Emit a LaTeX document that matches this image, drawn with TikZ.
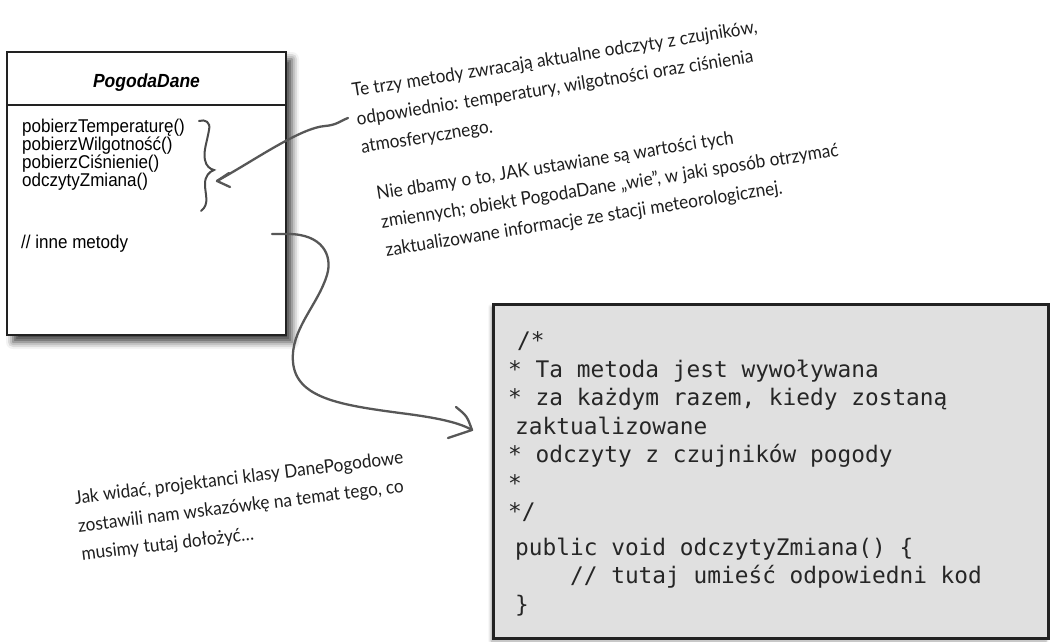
\documentclass[tikz,border=0pt]{standalone}
\usepackage{fontspec}
\usetikzlibrary{shadows.blur,calc}
\newfontfamily\umlfont[FakeStretch=0.92]{Liberation Sans}
\newfontfamily\codefont{DejaVu Sans Mono}
\newfontfamily\notefont[FakeStretch=0.93]{Lato}
\definecolor{inkgray}{HTML}{575757}
\definecolor{codebg}{HTML}{E0E0E0}
\definecolor{frameink}{HTML}{222222}
\definecolor{codeink}{HTML}{262626}
\definecolor{noteink}{HTML}{1E1E1E}

\begin{document}
\begin{tikzpicture}[x=1pt,y=-1pt,
  umlbox/.style={draw=frameink, line width=1.6pt, fill=white, inner sep=0pt,
    minimum width=279pt, minimum height=283pt,
    blur shadow={shadow xshift=6pt, shadow yshift=-7pt,
      shadow blur radius=7pt, shadow opacity=75}},
  codebox/.style={draw=frameink, line width=3pt, fill=codebg, inner sep=0pt,
    minimum width=555pt, minimum height=334pt,
    blur shadow={shadow xshift=-2pt, shadow yshift=-3pt,
      shadow blur radius=3pt, shadow opacity=35}},
  umltext/.style={inner sep=0pt, align=left,
    font=\umlfont\fontsize{18.5}{17.7}\selectfont},
  codetextstyle/.style={inner sep=0pt, align=left, text=codeink,
    font=\codefont\fontsize{22.8}{28.5}\selectfont},
  note/.style={inner sep=0pt, align=left, anchor=base west, text=noteink,
    font=\notefont\fontsize{18.5}{28.5}\selectfont},
  conn/.style={draw=inkgray, line width=2.3pt, line cap=round, line join=round},
  bracestyle/.style={draw=inkgray!85!black, line width=2pt, line cap=round}
]
\useasboundingbox (0,0) rectangle (1052,642);

% class box (multi-line nodes are anchored on the baseline of their last line)
\node[umlbox] (uml) at (146.5,193.5) {};
\draw[frameink, line width=1.4pt] (uml.west |- 0,105) -- (uml.east |- 0,105);
\node[anchor=base, inner sep=0pt,
  font=\umlfont\bfseries\itshape\fontsize{19}{19}\selectfont] (title) at (146.5,87) {PogodaDane};
\node[umltext, anchor=base west] (methods) at (22,186)
  {pobierzTemperaturę()\\pobierzWilgotność()\\pobierzCiśnienie()\\odczytyZmiana()};
\node[umltext, anchor=base west] (other) at (21,248) {// inne metody};

% brace grouping the four methods
\draw[bracestyle] (199,121) .. controls (205,119) and (211,122) .. (209,130)
  .. controls (207,142) and (203,152) .. (205,160)
  .. controls (206,166) and (210,169) .. (214,170)
  .. controls (209,172) and (205,176) .. (205,184)
  .. controls (205,195) and (210,204) .. (201,211);

% code listing
\node[codebox] (code) at (770.5,471) {};
\node[codetextstyle, anchor=base west] (codetext) at (508,612)
  {\hspace*{9pt}/*\\{}* Ta metoda jest wywoływana\\{}* za każdym razem, kiedy zostaną\\
   \hspace*{7pt}zaktualizowane\\{}* odczyty z czujników pogody\\{}*\\{}*/\\[7pt]
   \hspace*{7pt}public void odczytyZmiana() \{\\
   \hspace*{7pt}\hphantom{xxxx}// tutaj umieść odpowiedni kod\\
   \hspace*{7pt}\}};

% handwritten notes
\node[note, rotate=9] (note1) at (361.9,153.3)
  {Te trzy metody zwracają aktualne odczyty z czujników,\\
   odpowiednio: temperatury, wilgotności oraz ciśnienia\\
   atmosferycznego.};
\node[note, rotate=9] (note2) at (386.4,256.3)
  {Nie dbamy o to, JAK ustawiane są wartości tych\\
   zmiennych; obiekt PogodaDane „wie”, w jaki sposób otrzymać\\
   zaktualizowane informacje ze stacji meteorologicznej.};
\node[note, rotate=7] (note3) at (82.1,560.6)
  {Jak widać, projektanci klasy DanePogodowe\\
   zostawili nam wskazówkę na temat tego, co\\
   musimy tutaj dołożyć\ldots};

% arrow from the first note to the brace
\coordinate (noteEnd) at (348,118);
\coordinate (braceTip) at (217,181);
\draw[conn] (noteEnd) .. controls (340,121) and (337,125) .. (325,126)
  .. controls (300,128) and (255,160) .. (braceTip);
\draw[conn] ($(braceTip)+(12,-8)$) -- (braceTip) -- ($(braceTip)+(13,6)$);

% arrow from the class box to the listing
\coordinate (hookStart) at (272,234);
\coordinate (hookTip) at (472,430);
\draw[conn] (hookStart) -- (288,234)
  .. controls (322,234) and (333,255) .. (327,275)
  .. controls (318,305) and (290,330) .. (293,362)
  .. controls (296,398) and (340,405) .. (400,413)
  .. controls (440,418) and (460,423) .. (hookTip);
\draw[conn] ($(hookTip)+(-16,-23)$) .. controls ($(hookTip)+(-5,-14)$) .. (hookTip)
  -- ($(hookTip)+(-24,8)$);
\end{tikzpicture}
\end{document}
